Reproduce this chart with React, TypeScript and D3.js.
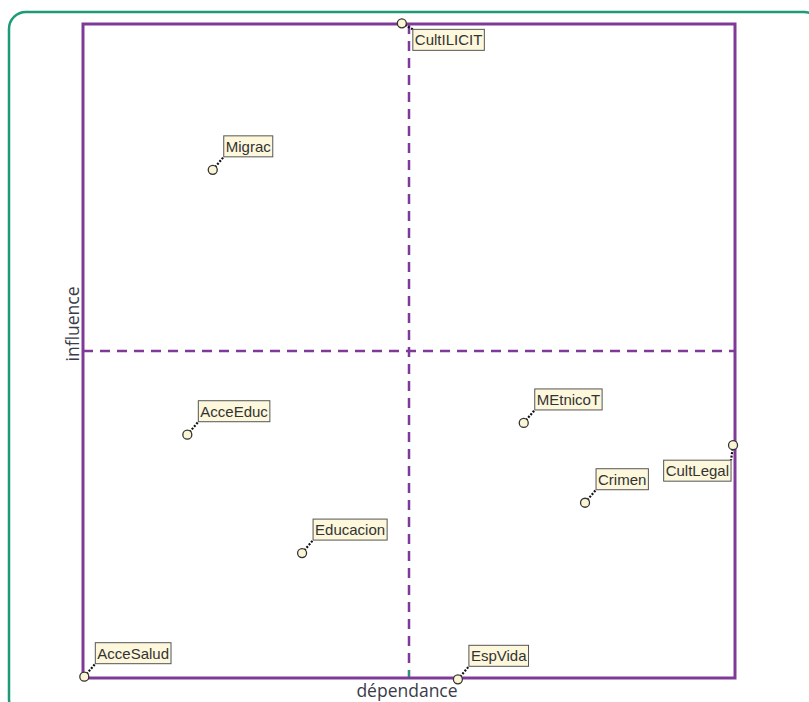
import React, { useEffect, useRef } from 'react';
import * as d3 from 'd3';

// variables (MICMAC style plan), values in % of the axis range
const names = ['CultILICIT', 'Migrac', 'AcceEduc', 'MEtnicoT', 'CultLegal', 'Crimen', 'Educacion', 'AcceSalud', 'EspVida'];
const dependance = [48.9, 19.9, 16.0, 67.6, 99.7, 77.0, 33.6, 0.2, 57.5];
const influence = [100.1, 77.7, 37.2, 39.0, 35.6, 26.8, 19.1, 0.2, -0.2];

const W = 809;
const H = 702;
const margin = { left: 83, right: 74, top: 24, bottom: 24 };
const purple = '#7f3a98';

const App = () => {
  const ref = useRef<SVGSVGElement>(null);

  useEffect(() => {
    const svg = d3.select(ref.current);
    svg.selectAll('*').remove();

    const x = d3.scaleLinear().domain([0, 100]).range([margin.left, W - margin.right]);
    const y = d3.scaleLinear().domain([0, 100]).range([H - margin.bottom, margin.top]);

    // outer rounded frame
    svg.append('rect')
      .attr('x', 9).attr('y', 12).attr('width', 812).attr('height', 704)
      .attr('rx', 17).attr('fill', 'none')
      .attr('stroke', '#1d9a78').attr('stroke-width', 2.5);

    // quadrant lines
    svg.append('line')
      .attr('x1', x(50)).attr('x2', x(50)).attr('y1', y(100)).attr('y2', y(0))
      .attr('stroke', purple).attr('stroke-width', 2.5).attr('stroke-dasharray', '10,7');
    svg.append('line')
      .attr('x1', x(50)).attr('x2', x(50)).attr('y1', y(0) - 8).attr('y2', y(0))
      .attr('stroke', '#1d9a78').attr('stroke-width', 2);
    svg.append('line')
      .attr('x1', x(0)).attr('x2', x(100)).attr('y1', y(50)).attr('y2', y(50))
      .attr('stroke', purple).attr('stroke-width', 2.5).attr('stroke-dasharray', '10,7');

    svg.append('rect')
      .attr('x', x(0)).attr('y', y(100))
      .attr('width', x(100) - x(0)).attr('height', y(0) - y(100))
      .attr('fill', 'none').attr('stroke', purple).attr('stroke-width', 3);

    // axis titles
    svg.append('text')
      .attr('x', x(50) - 2).attr('y', H - 5)
      .attr('text-anchor', 'middle')
      .attr('font-family', '"Open Sans", sans-serif').attr('font-size', 17.5)
      .attr('fill', '#3b3b4a')
      .text('dépendance');
    svg.append('text')
      .attr('transform', `translate(${x(0) - 4},${y(50) - 27}) rotate(-90)`)
      .attr('text-anchor', 'middle')
      .attr('font-family', '"Open Sans", sans-serif').attr('font-size', 17.5)
      .attr('fill', '#3b3b4a')
      .text('influence');

    const pts = names.map((n, i) => ({ name: n, px: x(dependance[i]), py: y(influence[i]), d: dependance[i], v: influence[i] }));

    const g = svg.selectAll('g.pt').data(pts).join('g').attr('class', 'pt');

    g.each(function (p) {
      const node = d3.select(this);
      const below = p.v > 95;
      const left = p.d > 95;
      const leader = node.append('line')
        .attr('stroke', '#111').attr('stroke-width', 2.2).attr('stroke-dasharray', '2,1.5');
      const box = node.append('rect')
        .attr('fill', '#fdf7dc').attr('stroke', '#555').attr('stroke-width', 1);
      const t = node.append('text')
        .attr('font-family', '"Liberation Sans", Arial, sans-serif').attr('font-size', 15)
        .attr('fill', '#333').text(p.name);
      const tw = (t.node() as SVGTextElement).getComputedTextLength();
      const bw = tw + 4;
      const bh = 21;
      const bx = left ? p.px - 2 - bw : p.px + 11;
      const by = below ? p.py + 6 : left ? p.py + 15 : p.py - 13 - bh;
      box.attr('x', bx).attr('y', by).attr('width', bw).attr('height', bh);
      t.attr('x', bx + 2).attr('y', by + 16);
      const cx = left ? bx + bw : bx;
      const cy = below || left ? by : by + bh;
      leader.attr('x1', p.px).attr('y1', p.py).attr('x2', cx).attr('y2', cy);
      node.append('circle')
        .attr('cx', p.px).attr('cy', p.py).attr('r', 4.5)
        .attr('fill', '#fbf5d6').attr('stroke', '#333').attr('stroke-width', 1.3);
    });
  }, []);

  return (
    <svg ref={ref} width={W} height={H} style={{ position: 'absolute', left: 0, top: 0, background: '#fff' }} />
  );
};

export default App;
